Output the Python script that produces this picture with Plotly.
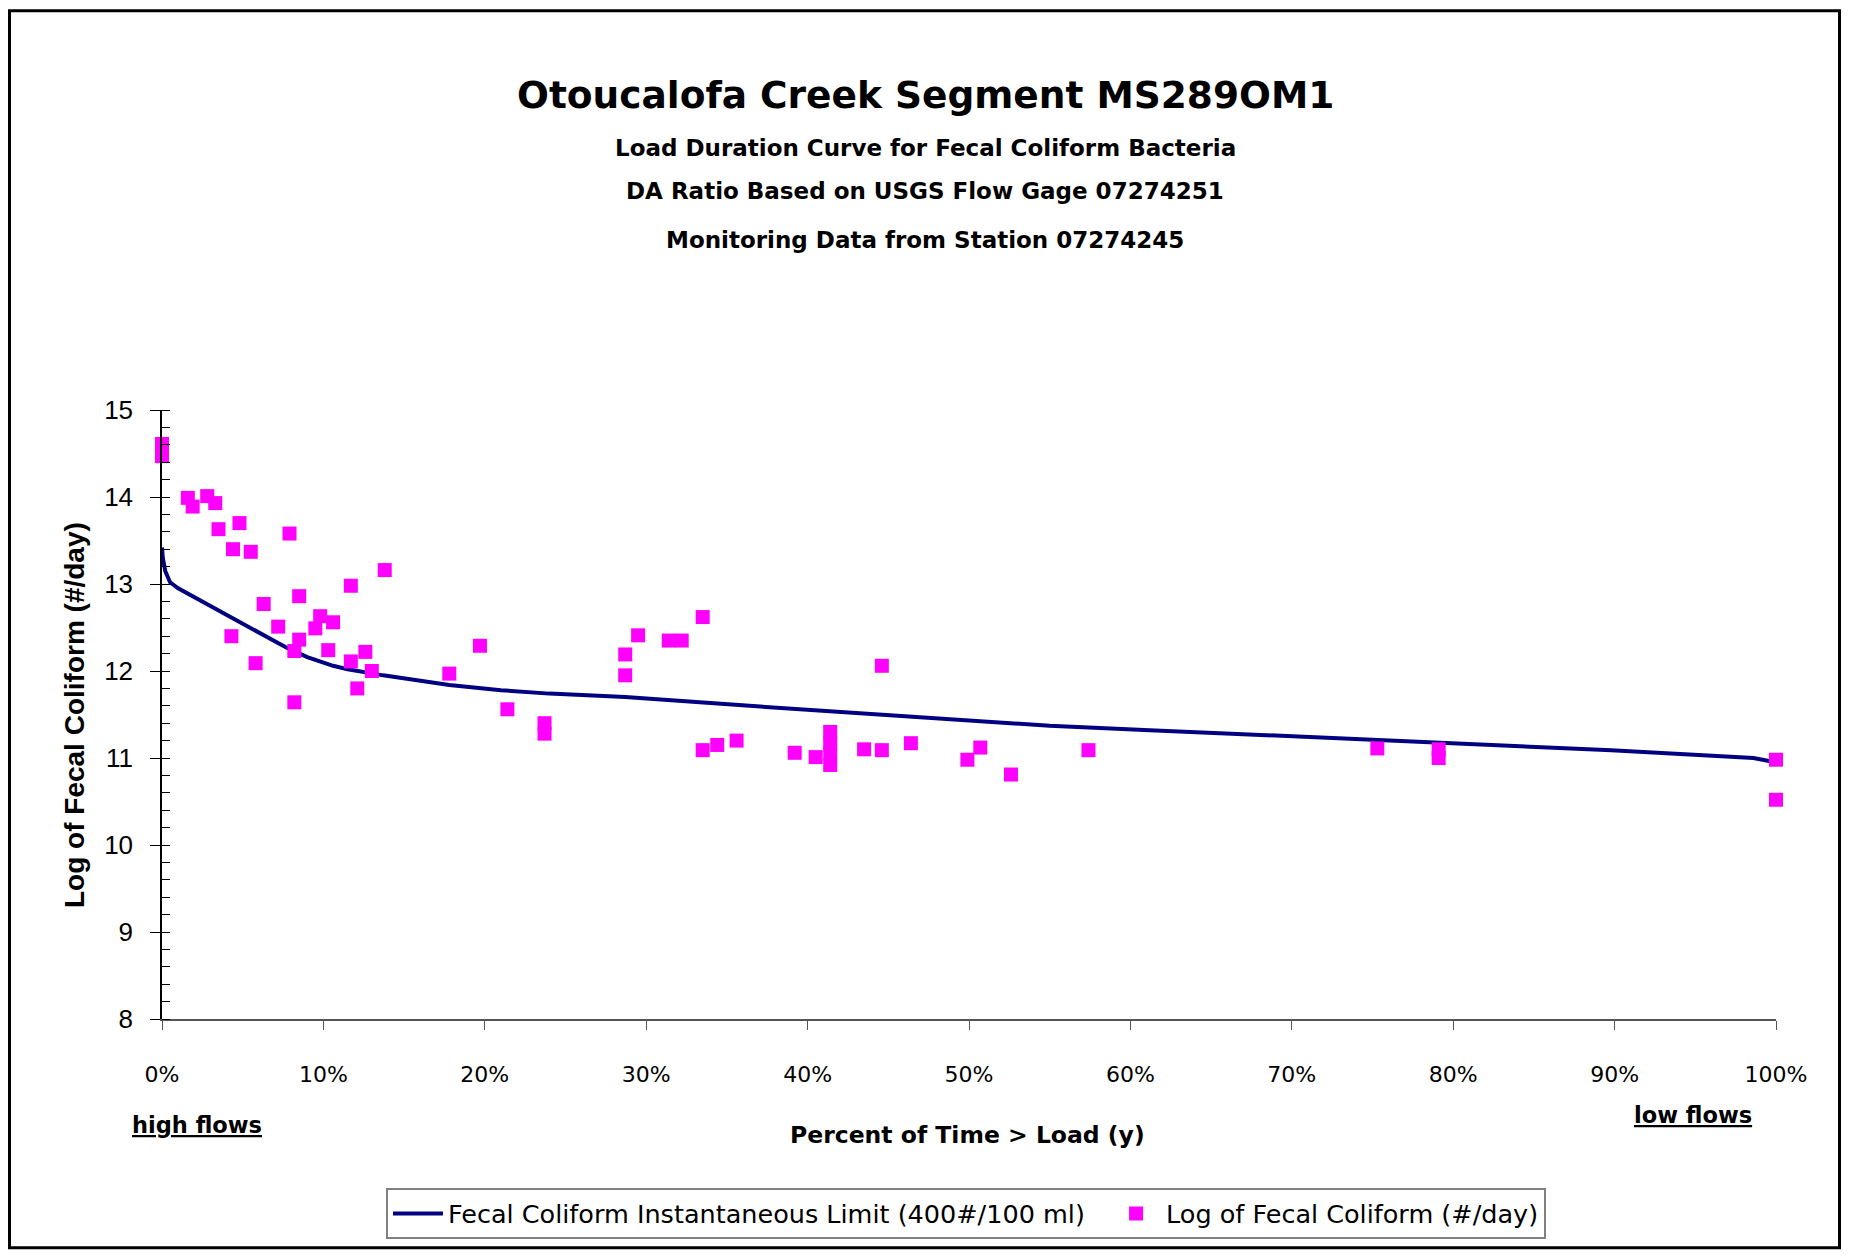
import plotly.graph_objects as go

# Observed loads (percent of time > load, log of fecal coliform #/day)
pct_obs = [0, 0, 1.6, 1.9, 2.8, 3.3, 3.5, 4.8, 4.4, 5.5, 7.9, 4.3, 6.3, 5.8, 7.2, 8.5, 8.5, 8.2, 8.2,
           9.8, 9.5, 10.6, 10.3, 11.7, 11.7, 12.6, 12.1, 13.0, 13.8, 17.8, 19.7, 21.4, 23.7, 23.7,
           28.7, 28.7, 29.5, 31.4, 32.2, 33.5, 33.5, 34.4, 35.6, 39.2, 40.5, 41.4, 41.4, 41.4, 41.4,
           43.5, 44.6, 44.6, 46.4, 49.9, 50.7, 52.6, 57.4, 75.3, 79.1, 79.1, 100, 100]
log_obs = [14.61, 14.47, 13.99, 13.89, 14.01, 13.93, 13.63, 13.70, 13.40, 13.37, 13.58, 12.40, 12.77,
           12.09, 12.51, 12.86, 12.36, 12.23, 11.64, 12.63, 12.49, 12.56, 12.24, 12.98, 12.11, 12.22,
           11.80, 12.00, 13.16, 11.97, 12.29, 11.56, 11.40, 11.28, 12.19, 11.95, 12.41, 12.35, 12.35,
           12.62, 11.09, 11.15, 11.20, 11.06, 11.01, 11.30, 11.17, 11.05, 10.92, 11.10, 11.09, 12.06,
           11.17, 10.98, 11.12, 10.81, 11.09, 11.11, 11.10, 11.00, 10.98, 10.52]

# Instantaneous limit curve
pct_limit = [0, 0.05, 0.2, 0.5, 1.0, 3.0, 5.25, 7.7, 9.0, 10.6, 11.5, 13.7, 17.8, 21.0, 24.0, 28.7,
             36.4, 44.0, 51.8, 55.0, 61.2, 68.9, 79.0, 89.8, 98.6, 100]
log_limit = [13.42, 13.30, 13.15, 13.02, 12.95, 12.75, 12.52, 12.27, 12.16, 12.06, 12.02, 11.95,
             11.84, 11.78, 11.74, 11.70, 11.60, 11.51, 11.41, 11.37, 11.32, 11.26, 11.18, 11.09,
             11.00, 10.95]

# page body has an 8px margin, so the figure is drawn 8px in from the window edge
OFF = 8
W, H = 1849 - 2 * OFF, 1260 - 2 * OFF
L, T = 162 - OFF, 410 - OFF
R = W - (1776 - OFF)
B = H - (1021 - OFF)
pw, ph = W - L - R, H - T - B


def px(x):
    # window x -> paper x
    return (x - OFF - L) / pw


def py(y):
    # window y -> paper y
    return (H - B - (y - OFF)) / ph


fig = go.Figure()
fig.add_trace(go.Scatter(
    x=pct_limit, y=log_limit, mode="lines",
    name="Fecal Coliform Instantaneous Limit (400#/100 ml)\u00a0\u00a0",
    line=dict(color="#000080", width=4), cliponaxis=False))
fig.add_trace(go.Scatter(
    x=pct_obs, y=log_obs, mode="markers",
    name="Log of Fecal Coliform (#/day)",
    marker=dict(symbol="square", color="#FF00FF", size=14, line=dict(width=0)),
    cliponaxis=False))

txt = "DejaVu Sans"
annos = [
    dict(text="<b>Otoucalofa Creek Segment MS289OM1</b>", x=px(925), y=py(94), font=dict(size=37.5)),
    dict(text="<b>Load Duration Curve for Fecal Coliform Bacteria</b>", x=px(925), y=py(147), font=dict(size=23)),
    dict(text="<b>DA Ratio Based on USGS Flow Gage 07274251</b>", x=px(925), y=py(190), font=dict(size=23)),
    dict(text="<b>Monitoring Data from Station 07274245</b>", x=px(925), y=py(239), font=dict(size=23)),
    dict(text="<b>Percent of Time > Load (y)</b>", x=px(967), y=py(1137), font=dict(size=23.5)),
    dict(text="<b><u>high flows</u></b>", x=px(197), y=py(1127), font=dict(size=22.5)),
    dict(text="<b><u>low flows</u></b>", x=px(1693), y=py(1117), font=dict(size=22.5)),
    dict(text="<b>Log of Fecal Coliform (#/day)</b>", x=px(75), y=py(716), textangle=-90,
         font=dict(size=28, family="Liberation Sans")),
]
for a in annos:
    a.update(xref="paper", yref="paper", showarrow=False, xanchor="center", yanchor="middle")
    a["font"] = dict(family=a["font"].get("family", txt), size=a["font"]["size"], color="black")

fx0, fx1 = 1.5, W - 1.5
fy0, fy1 = 1.5, H - 1.5

fig.update_layout(
    width=W, height=H,
    margin=dict(l=L, r=R, t=T, b=B),
    paper_bgcolor="white", plot_bgcolor="white",
    font=dict(family=txt, color="black"),
    annotations=annos,
    showlegend=True,
    legend=dict(orientation="h", x=px(386), y=py(1191), xanchor="left", yanchor="top",
                bordercolor="#808080", borderwidth=2, bgcolor="white",
                font=dict(family=txt, size=25.5), itemwidth=50),
    xaxis=dict(range=[0, 100], dtick=10, tick0=0, ticksuffix="%", showgrid=False, zeroline=False,
               showline=True, linecolor="#555555", linewidth=1.5, ticks="outside", ticklen=9,
               tickcolor="#555555", tickfont=dict(family=txt, size=22), ticklabelstandoff=26),
    yaxis=dict(range=[8, 15], dtick=1, showgrid=False, zeroline=False, showline=True,
               linecolor="black", linewidth=1.5, ticks="outside", ticklen=10, tickcolor="black",
               tickfont=dict(family="Liberation Sans", size=26), ticklabelstandoff=12,
               minor=dict(dtick=0.2, ticks="inside", ticklen=8, tickcolor="black", showgrid=False)),
    yaxis2=dict(range=[8, 15], overlaying="y", matches="y", dtick=1, ticks="inside", ticklen=10,
                tickcolor="black", showticklabels=False, showgrid=False, zeroline=False, showline=False),
    shapes=[dict(type="rect", xref="paper", yref="paper",
                 x0=(fx0 - L) / pw, x1=(fx1 - L) / pw,
                 y0=(H - B - fy1) / ph, y1=(H - B - fy0) / ph,
                 line=dict(color="black", width=3))],
)

fig.write_html("out.html")
